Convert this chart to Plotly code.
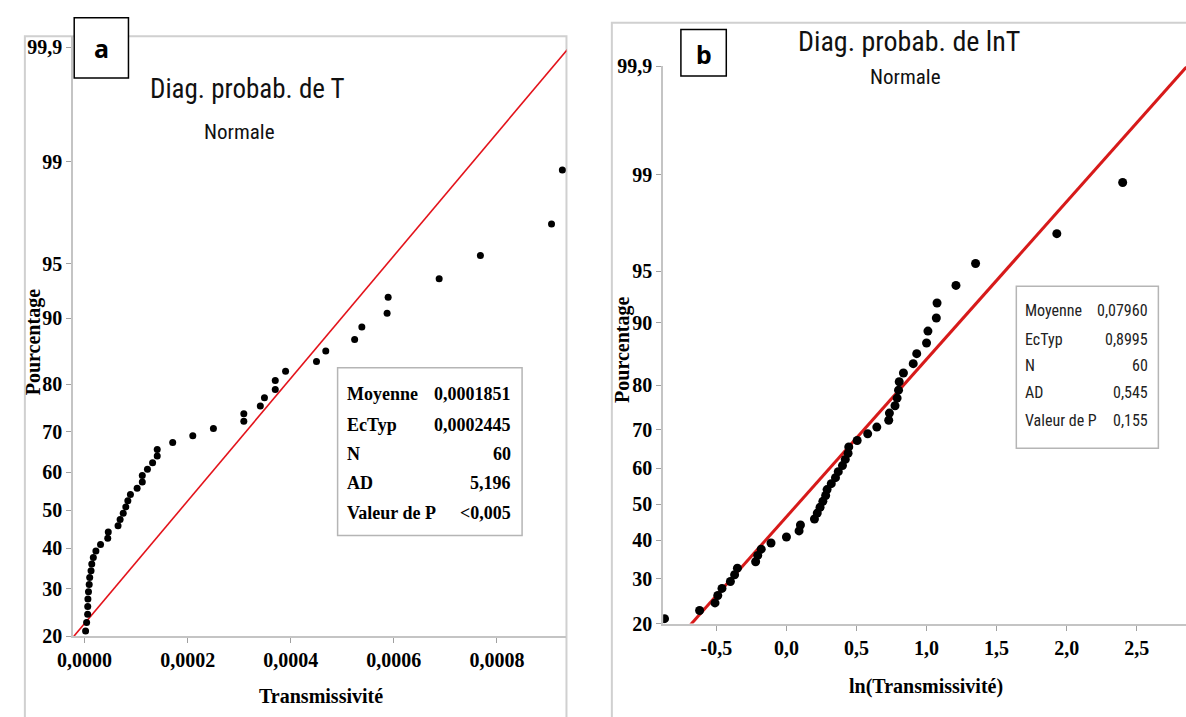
import plotly.graph_objects as go
from statistics import NormalDist

W, H = 1186, 717
_nd = NormalDist()


def probit(p):
    """Normal-probability scale: percent -> z."""
    return _nd.inv_cdf(p / 100.0)


def px(x):
    return x / W


def py(y):
    return 1 - y / H


# ---------------- data ----------------
# Panel a : T (transmissivity), cumulative percentages (median ranks)
pct_a = [19.37, 20.99, 22.68, 24.34, 25.99, 27.65, 29.30, 30.96, 32.62, 34.27,
         35.93, 37.58, 39.24, 40.89, 42.55, 44.21, 45.86, 47.52, 49.17, 50.83,
         52.48, 54.14, 55.79, 57.45, 59.11, 60.76, 62.42, 64.07, 65.73, 67.38,
         69.04, 70.70, 72.35, 74.01, 75.66, 77.32, 78.97, 80.63, 82.28, 83.94,
         85.60, 87.25, 88.91, 90.56, 92.22, 93.87, 95.53, 97.19, 98.84]
t_a = [1.0e-6, 2.0e-6, 4.0e-6, 6.0e-6, 6.2e-6, 6.5e-6, 7.6e-6, 9.0e-6, 1.00e-5, 1.26e-5,
       1.40e-5, 1.70e-5, 2.20e-5, 3.10e-5, 4.50e-5, 4.60e-5, 6.50e-5, 6.90e-5, 7.50e-5, 8.00e-5,
       8.40e-5, 8.90e-5, 1.02e-4, 1.12e-4, 1.12e-4, 1.22e-4, 1.32e-4, 1.41e-4, 1.41e-4, 1.71e-4,
       2.10e-4, 2.50e-4, 3.09e-4, 3.09e-4, 3.41e-4, 3.49e-4, 3.70e-4, 3.70e-4, 3.90e-4, 4.50e-4,
       4.68e-4, 5.24e-4, 5.38e-4, 5.87e-4, 5.89e-4, 6.88e-4, 7.68e-4, 9.06e-4, 9.27e-4]

# Panel b : ln(T)
pct_b = [20.99, 22.68, 24.34, 25.99, 27.65, 29.30, 30.96, 32.62, 34.27,
         35.93, 37.58, 39.24, 40.89, 42.55, 44.21, 45.86, 47.52, 49.17, 50.83,
         52.48, 54.14, 55.79, 57.45, 59.11, 60.76, 62.42, 64.07, 65.73, 67.38,
         69.04, 70.70, 72.35, 74.01, 75.66, 77.32, 78.97, 80.63, 82.28, 83.94,
         85.60, 87.25, 88.91, 90.56, 92.22, 93.87, 95.53, 97.19, 98.84]
lnt_b = [-0.87, -0.62, -0.51, -0.49, -0.46, -0.40, -0.37, -0.35, -0.22,
         -0.205, -0.18, -0.11, 0.00, 0.09, 0.10, 0.20, 0.22, 0.24, 0.26,
         0.28, 0.29, 0.32, 0.35, 0.37, 0.40, 0.42, 0.44, 0.445, 0.505,
         0.58, 0.645, 0.73, 0.735, 0.775, 0.79, 0.80, 0.805, 0.835, 0.905,
         0.93, 1.00, 1.01, 1.07, 1.075, 1.21, 1.35, 1.93, 2.40]

# fitted normal parameters (from the statistics boxes)
mean_a, sd_a = 0.0001851, 0.0002445
mean_b, sd_b = 0.07960, 0.8995
fit_pct = [0.1, 99.9]

stats_labels = ["Moyenne", "EcTyp", "N", "AD", "Valeur de P"]
stats_a = ["0,0001851", "0,0002445", "60", "5,196", "<0,005"]
stats_b = ["0,07960", "0,8995", "60", "0,545", "0,155"]

y_tick_pct = [20, 30, 40, 50, 60, 70, 80, 90, 95, 99, 99.9]
y_tick_txt = ["20", "30", "40", "50", "60", "70", "80", "90", "95", "99", "99,9"]
xa_ticks = [0.0, 0.0002, 0.0004, 0.0006, 0.0008]
xa_txt = ["0,0000", "0,0002", "0,0004", "0,0006", "0,0008"]
xb_ticks = [-0.5, 0.0, 0.5, 1.0, 1.5, 2.0, 2.5]
xb_txt = ["-0,5", "0,0", "0,5", "1,0", "1,5", "2,0", "2,5"]

# ---------------- styling ----------------
SERIF = "Liberation Serif, Times New Roman, serif"
NARROW = "Liberation Sans Narrow, Arial Narrow, Roboto Condensed, Liberation Sans, sans-serif"
BOLDSANS = "Noto Sans, Open Sans, Liberation Sans, sans-serif"
GRAY = "#c4c4c4"

fig = go.Figure()

# Panel a
za = [probit(p) for p in fit_pct]
fig.add_trace(go.Scatter(x=[mean_a + sd_a * z for z in za], y=za, mode="lines",
                         line=dict(color="#e3131b", width=1.6), xaxis="x", yaxis="y",
                         hoverinfo="skip"))
fig.add_trace(go.Scatter(x=t_a, y=[probit(p) for p in pct_a], mode="markers",
                         marker=dict(color="black", size=7), xaxis="x", yaxis="y"))
# Panel b
zb = [probit(p) for p in fit_pct]
fig.add_trace(go.Scatter(x=[mean_b + sd_b * z for z in zb], y=zb, mode="lines",
                         line=dict(color="#d71a1a", width=3), xaxis="x2", yaxis="y2",
                         hoverinfo="skip"))
fig.add_trace(go.Scatter(x=lnt_b, y=[probit(p) for p in pct_b], mode="markers",
                         marker=dict(color="black", size=9), xaxis="x2", yaxis="y2"))

tickfont = dict(family=SERIF, size=20, color="black", weight="bold")
common = dict(showgrid=False, zeroline=False, showline=True, linecolor=GRAY, linewidth=2,
              ticks="outside", ticklen=5, tickwidth=1, tickcolor="#a0a0a0",
              tickfont=tickfont, fixedrange=True)

ytv = [probit(p) for p in y_tick_pct]

fig.update_layout(
    width=W, height=H, margin=dict(l=0, r=0, t=0, b=0),
    paper_bgcolor="white", plot_bgcolor="white", showlegend=False,
    xaxis=dict(domain=[px(58), px(558)], range=[-0.000022, 0.000935], anchor="y",
               tickvals=xa_ticks, ticktext=xa_txt, **common),
    yaxis=dict(domain=[py(645), py(26)], range=[probit(20), 3.163], anchor="x",
               tickvals=ytv, ticktext=y_tick_txt, **common),
    xaxis2=dict(domain=[px(656), 1.0], range=[-0.88, 2.852], anchor="y2",
                tickvals=xb_ticks, ticktext=xb_txt, **common),
    yaxis2=dict(domain=[py(632), py(57)], range=[probit(20), probit(99.9)], anchor="x2",
                tickvals=ytv, ticktext=y_tick_txt, **common),
)

shapes = []
# outer frames
shapes.append(dict(type="rect", xref="paper", yref="paper", x0=px(9), x1=px(558),
                   y0=-0.05, y1=py(26), line=dict(color="#d0d0d0", width=2), layer="below"))
shapes.append(dict(type="rect", xref="paper", yref="paper", x0=px(604), x1=1.05,
                   y0=-0.05, y1=py(12), line=dict(color="#d0d0d0", width=2), layer="below"))
# label boxes
shapes.append(dict(type="rect", xref="paper", yref="paper", x0=px(59), x1=px(114),
                   y0=py(69), y1=py(7), line=dict(color="black", width=1.5),
                   fillcolor="white", layer="above"))
shapes.append(dict(type="rect", xref="paper", yref="paper", x0=px(674), x1=px(720),
                   y0=py(67), y1=py(19), line=dict(color="black", width=1.5),
                   fillcolor="white", layer="above"))
# stats boxes
shapes.append(dict(type="rect", xref="paper", yref="paper", x0=px(326), x1=px(513),
                   y0=py(541), y1=py(368), line=dict(color="#b5b5b5", width=1.5),
                   fillcolor="white", layer="above"))
shapes.append(dict(type="rect", xref="paper", yref="paper", x0=px(1014), x1=px(1158),
                   y0=py(451), y1=py(284), line=dict(color="#b5b5b5", width=1.5),
                   fillcolor="white", layer="above"))

ann = []


def text(x, y, s, font, xanchor="center", yanchor="middle", angle=0):
    ann.append(dict(x=px(x), y=py(y), xref="paper", yref="paper", text=s, showarrow=False,
                    xanchor=xanchor, yanchor=yanchor, font=font, textangle=angle))


# panel letters
text(86.5, 38, "<b>a</b>", dict(family=BOLDSANS, size=25, color="black"))
text(697, 44, "<b>b</b>", dict(family=BOLDSANS, size=25, color="black"))
# titles
text(235, 80, "Diag. probab. de T", dict(family=NARROW, size=27, color="#111"))
text(227, 125, "Normale", dict(family=NARROW, size=21, color="#111"))
text(905, 31, "Diag. probab. de lnT", dict(family=NARROW, size=28, color="#111"))
text(902, 68, "Normale", dict(family=NARROW, size=21, color="#111"))
# axis titles
text(18, 342, "<b>Pourcentage</b>", dict(family=SERIF, size=20, color="black"), angle=-90)
text(615, 350, "<b>Pourcentage</b>", dict(family=SERIF, size=20, color="black"), angle=-90)
text(309, 707, "<b>Transmissivité</b>", dict(family=SERIF, size=20, color="black"))
text(922, 697, "<b>ln(Transmissivité)</b>", dict(family=SERIF, size=20, color="black"))

# stats panel a
rows_a = [395, 427, 457, 487, 518]
for lab, val, y in zip(stats_labels, stats_a, rows_a):
    text(334, y, "<b>" + lab + "</b>", dict(family=SERIF, size=18, color="black"), xanchor="left")
    text(504, y, "<b>" + val.replace("<", "&lt;") + "</b>", dict(family=SERIF, size=18, color="black"),
         xanchor="right")
# stats panel b
rows_b = [309, 339, 366, 394, 422]
for lab, val, y in zip(stats_labels, stats_b, rows_b):
    text(1021, y, lab, dict(family=NARROW, size=16, color="#222"), xanchor="left")
    text(1150, y, val, dict(family=NARROW, size=16, color="#222"), xanchor="right")

fig.update_layout(shapes=shapes, annotations=ann)
fig.write_html("out.html")
